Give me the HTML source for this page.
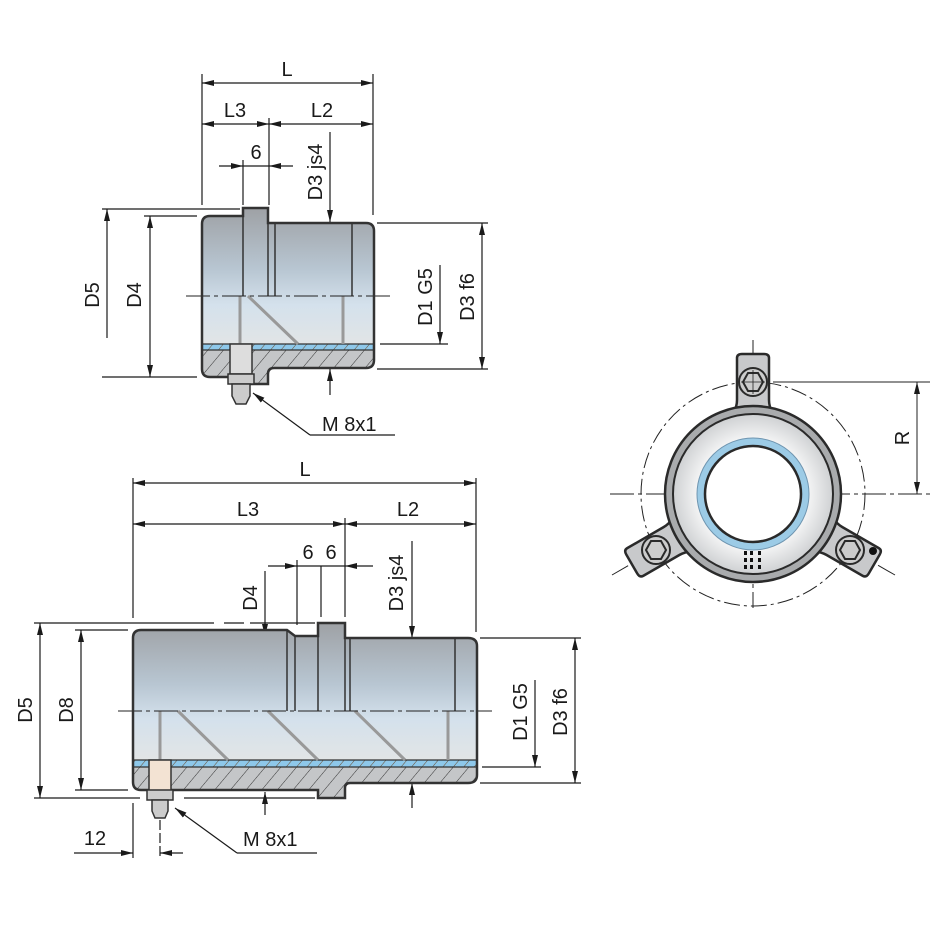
<!DOCTYPE html>
<html><head><meta charset="utf-8"><style>
html,body{margin:0;padding:0;background:#fff}
svg{display:block}
text{font-family:"Liberation Sans",Arial,sans-serif;font-size:20px;fill:#1a1a1a}
</style></head><body>
<svg width="941" height="941" viewBox="0 0 941 941" xmlns="http://www.w3.org/2000/svg">
<defs>
<marker id="a" viewBox="0 0 12 6" refX="12" refY="3" markerWidth="12" markerHeight="6" orient="auto-start-reverse" markerUnits="userSpaceOnUse"><path d="M0,0 L12,3 L0,6 z" fill="#1a1a1a"/></marker>
<linearGradient id="g" x1="0" y1="0" x2="0" y2="1">
<stop offset="0" stop-color="#9ea1a5"/><stop offset="0.35" stop-color="#b8c6d2"/><stop offset="0.55" stop-color="#d4e1ec"/><stop offset="0.85" stop-color="#e6e6e4"/><stop offset="1" stop-color="#d9d4cc"/></linearGradient>
<pattern id="h" width="12" height="12" patternUnits="userSpaceOnUse" patternTransform="rotate(40)"><rect width="12" height="12" fill="#c4c6c8"/><line x1="0" y1="0" x2="0" y2="12" stroke="#333" stroke-width="1"/></pattern>
<pattern id="hb" width="8" height="8" patternUnits="userSpaceOnUse" patternTransform="rotate(40)"><rect width="8" height="8" fill="#8ec8ea"/><line x1="0" y1="0" x2="0" y2="8" stroke="#6b4a2a" stroke-width="1"/></pattern>
<radialGradient id="rg"><stop offset="0.6" stop-color="#fff"/><stop offset="1" stop-color="#cfd1d3"/></radialGradient>
<path id="tb" d="M210,216 H243 V208 H268 V223 H366 Q374,223 374,231 V360 Q374,368 366,368 H274 Q268,368 268,374 V384 H250 V377 H210 Q202,377 202,369 V224 Q202,216 210,216 Z"/>
<path id="bb" d="M141,630 H287 L295,636 H318 V623 H345 V638 H468 Q477,638 477,646 V775 Q477,783 468,783 H350 Q345,783 345,788 V798 H318 V790 H141 Q133,790 133,782 V638 Q133,630 141,630 Z"/>
<clipPath id="ct"><use href="#tb"/></clipPath>
<clipPath id="cb"><use href="#bb"/></clipPath>
<path id="ear" d="M737,358 Q737,354 742,354 H764 Q769,354 769,358 V400 Q769,406 772,412 H734 Q737,406 737,400 Z"/>
</defs>
<g stroke="#1a1a1a" stroke-width="1.2" fill="none">
<line x1="202" y1="74" x2="202" y2="205"/><line x1="373" y1="74" x2="373" y2="215"/>
<line x1="202" y1="83" x2="373" y2="83" marker-start="url(#a)" marker-end="url(#a)"/>
<line x1="269" y1="118" x2="269" y2="205"/>
<line x1="202" y1="124" x2="269" y2="124" marker-start="url(#a)" marker-end="url(#a)"/>
<line x1="269" y1="124" x2="373" y2="124" marker-start="url(#a)" marker-end="url(#a)"/>
<line x1="243" y1="160" x2="243" y2="205"/>
<line x1="219" y1="166" x2="243" y2="166" marker-end="url(#a)"/>
<line x1="293" y1="166" x2="269" y2="166" marker-end="url(#a)"/>
<line x1="243" y1="166" x2="269" y2="166"/>
<line x1="330" y1="132" x2="330" y2="222" marker-end="url(#a)"/>
<line x1="330" y1="395" x2="330" y2="369" marker-end="url(#a)"/>
<line x1="102" y1="209" x2="240" y2="209"/><line x1="144" y1="216" x2="197" y2="216"/>
<line x1="102" y1="377" x2="197" y2="377"/>
<line x1="107" y1="209" x2="107" y2="338" marker-start="url(#a)"/>
<line x1="150" y1="216" x2="150" y2="377" marker-start="url(#a)" marker-end="url(#a)"/>
<line x1="377" y1="223" x2="488" y2="223"/><line x1="377" y1="369" x2="488" y2="369"/><line x1="380" y1="344" x2="448" y2="344"/>
<line x1="482" y1="223" x2="482" y2="369" marker-start="url(#a)" marker-end="url(#a)"/>
<line x1="440" y1="265" x2="440" y2="344" marker-end="url(#a)"/>
<line x1="310" y1="435" x2="253" y2="393" marker-end="url(#a)"/><line x1="310" y1="435" x2="395" y2="435"/>
<line x1="133" y1="478" x2="133" y2="618"/><line x1="476" y1="478" x2="476" y2="632"/>
<line x1="133" y1="483" x2="476" y2="483" marker-start="url(#a)" marker-end="url(#a)"/>
<line x1="345" y1="518" x2="345" y2="617"/>
<line x1="133" y1="524" x2="345" y2="524" marker-start="url(#a)" marker-end="url(#a)"/>
<line x1="345" y1="524" x2="476" y2="524" marker-start="url(#a)" marker-end="url(#a)"/>
<line x1="297" y1="560" x2="297" y2="625"/><line x1="321" y1="566" x2="321" y2="617"/>
<line x1="268" y1="566" x2="297" y2="566" marker-end="url(#a)"/>
<line x1="373" y1="566" x2="345" y2="566" marker-end="url(#a)"/>
<line x1="297" y1="566" x2="345" y2="566"/>
<line x1="265" y1="571" x2="265" y2="636" marker-end="url(#a)"/>
<line x1="412" y1="541" x2="412" y2="638" marker-end="url(#a)"/>
<line x1="265" y1="815" x2="265" y2="792" marker-end="url(#a)"/>
<line x1="412" y1="808" x2="412" y2="783" marker-end="url(#a)"/>
<line x1="34" y1="623" x2="315" y2="623" stroke-dasharray="180 10 20 6"/><line x1="75" y1="630" x2="128" y2="630"/>
<line x1="34" y1="798" x2="140" y2="798"/><line x1="75" y1="790" x2="128" y2="790"/>
<line x1="40" y1="623" x2="40" y2="798" marker-start="url(#a)" marker-end="url(#a)"/>
<line x1="81" y1="630" x2="81" y2="790" marker-start="url(#a)" marker-end="url(#a)"/>
<line x1="480" y1="638" x2="581" y2="638"/><line x1="480" y1="783" x2="581" y2="783"/><line x1="482" y1="767" x2="541" y2="767"/>
<line x1="184" y1="798" x2="315" y2="798"/>
<line x1="575" y1="638" x2="575" y2="783" marker-start="url(#a)" marker-end="url(#a)"/>
<line x1="535" y1="680" x2="535" y2="767" marker-end="url(#a)"/>
<line x1="133" y1="803" x2="133" y2="858"/><line x1="160" y1="820" x2="160" y2="858" stroke-dasharray="10 3"/>
<line x1="74" y1="853" x2="133" y2="853" marker-end="url(#a)"/>
<line x1="183" y1="853" x2="160" y2="853" marker-end="url(#a)"/>
<line x1="237" y1="853" x2="175" y2="808" marker-end="url(#a)"/><line x1="237" y1="853" x2="317" y2="853"/>
</g>
<!-- TOP BODY -->
<use href="#tb" fill="url(#g)"/>
<g clip-path="url(#ct)">
<rect x="200" y="350" width="180" height="40" fill="url(#h)"/>
<rect x="200" y="344" width="180" height="6" fill="url(#hb)"/>
<path d="M200,350 H380 M200,344 H380" stroke="#333" stroke-width="1.2" fill="none"/>
</g>
<g fill="none">
<path d="M243,208 V296 M268,223 V296 M275,223 V296 M352,223 V296" stroke="#333" stroke-width="1.5"/>
<path d="M240,296 V344 M343,296 V344 M248,296 L298,344" stroke="#999" stroke-width="3"/>
<path d="M186,296 H390" stroke="#222" stroke-width="1" stroke-dasharray="24 4 4 4"/>
</g>
<use href="#tb" fill="none" stroke="#333" stroke-width="2.5"/>
<rect x="230" y="344" width="22" height="30" fill="#ddd" stroke="#333" stroke-width="1.5"/>
<rect x="228" y="374" width="26" height="10" fill="#ccc" stroke="#333" stroke-width="1.5"/>
<path d="M232,384 H250 V396 L246,404 H236 L232,396 Z" fill="#ccc" stroke="#333" stroke-width="1.5"/>
<!-- BOTTOM BODY -->
<use href="#bb" fill="url(#g)"/>
<g clip-path="url(#cb)">
<rect x="130" y="767" width="350" height="35" fill="url(#h)"/>
<rect x="130" y="760" width="350" height="7" fill="url(#hb)"/>
<path d="M130,767 H480 M130,760 H480" stroke="#333" stroke-width="1.2" fill="none"/>
</g>
<g fill="none">
<path d="M287,630 V711 M295,636 V711 M318,623 V711 M345,638 V711 M350,638 V711 M455,638 V711" stroke="#333" stroke-width="1.5"/>
<path d="M160,711 V760 M448,711 V760 M178,711 L228,760 M268,711 L318,760 M355,711 L405,760" stroke="#999" stroke-width="3"/>
<path d="M118,711 H492" stroke="#222" stroke-width="1" stroke-dasharray="24 4 4 4"/>
</g>
<use href="#bb" fill="none" stroke="#333" stroke-width="2.5"/>
<rect x="149" y="760" width="22" height="32" fill="#f3e3d3" stroke="#333" stroke-width="1.5"/>
<rect x="147" y="790" width="26" height="10" fill="#ccc" stroke="#333" stroke-width="1.5"/>
<path d="M152,800 H168 V811 L165,818 H155 L152,811 Z" fill="#ccc" stroke="#333" stroke-width="1.5"/>
<!-- END VIEW -->
<g stroke="#222" stroke-width="1" fill="none">
<circle cx="753" cy="494" r="112" stroke-dasharray="16 4 3 4"/>
<line x1="610" y1="494" x2="930" y2="494" stroke-dasharray="24 4 4 4"/>
<line x1="753" y1="340" x2="753" y2="608" stroke-dasharray="24 4 4 4"/>
<line x1="753" y1="494" x2="612" y2="575" stroke-dasharray="24 4 4 4"/>
<line x1="753" y1="494" x2="895" y2="575" stroke-dasharray="24 4 4 4"/>
<line x1="773" y1="382" x2="930" y2="382"/>
<line x1="917" y1="382" x2="917" y2="494" marker-start="url(#a)" marker-end="url(#a)"/>
</g>
<g fill="#c8c9cb" stroke="#2a2a2a" stroke-width="2.5">
<use href="#ear"/>
<use href="#ear" transform="rotate(120 753 494)"/>
<use href="#ear" transform="rotate(240 753 494)"/>
<circle cx="753" cy="494" r="88" fill="#a9abad"/>
<circle cx="753" cy="494" r="80" fill="url(#rg)" stroke-width="2"/>
<circle cx="753" cy="494" r="56" fill="#9ccbe6" stroke="#6f95b0" stroke-width="1"/>
<circle cx="753" cy="494" r="48" fill="#fff" stroke-width="2.5"/>
</g>
<g fill="#ccc" stroke="#2a2a2a" stroke-width="2">
<circle cx="753" cy="382" r="14"/><polygon points="763,382 758,391 748,391 743,382 748,373 758,373"/>
<circle cx="656" cy="550" r="14"/><polygon points="666,550 661,559 651,559 646,550 651,541 661,541"/>
<circle cx="850" cy="550" r="14"/><polygon points="860,550 855,559 845,559 840,550 845,541 855,541"/>
</g>
<circle cx="873" cy="551" r="4" fill="#111"/>
<g stroke="#222" stroke-width="0.8"><line x1="753" y1="370" x2="753" y2="394"/><line x1="741" y1="382" x2="765" y2="382"/></g>
<g fill="#111"><rect x="744" y="551" width="3" height="4"/><rect x="750" y="551" width="3" height="4"/><rect x="744" y="558" width="3" height="4"/><rect x="750" y="558" width="3" height="4"/><rect x="744" y="565" width="3" height="4"/><rect x="750" y="565" width="3" height="4"/><rect x="758" y="551" width="3" height="4"/><rect x="758" y="558" width="3" height="4"/><rect x="758" y="565" width="3" height="4"/></g>
<!-- TEXT -->
<text x="287" y="76" text-anchor="middle">L</text>
<text x="235" y="117" text-anchor="middle">L3</text>
<text x="322" y="117" text-anchor="middle">L2</text>
<text x="256" y="159" text-anchor="middle">6</text>
<text transform="translate(322,172) rotate(-90)" text-anchor="middle">D3 js4</text>
<text transform="translate(99,295) rotate(-90)" text-anchor="middle">D5</text>
<text transform="translate(141,295) rotate(-90)" text-anchor="middle">D4</text>
<text transform="translate(432,297) rotate(-90)" text-anchor="middle">D1 G5</text>
<text transform="translate(474,297) rotate(-90)" text-anchor="middle">D3 f6</text>
<text x="322" y="431">M 8x1</text>
<text x="305" y="476" text-anchor="middle">L</text>
<text x="248" y="516" text-anchor="middle">L3</text>
<text x="408" y="516" text-anchor="middle">L2</text>
<text x="308" y="559" text-anchor="middle">6</text>
<text x="331" y="559" text-anchor="middle">6</text>
<text transform="translate(257,598) rotate(-90)" text-anchor="middle">D4</text>
<text transform="translate(403,583) rotate(-90)" text-anchor="middle">D3 js4</text>
<text transform="translate(32,710) rotate(-90)" text-anchor="middle">D5</text>
<text transform="translate(73,710) rotate(-90)" text-anchor="middle">D8</text>
<text transform="translate(527,712) rotate(-90)" text-anchor="middle">D1 G5</text>
<text transform="translate(567,712) rotate(-90)" text-anchor="middle">D3 f6</text>
<text x="95" y="845" text-anchor="middle">12</text>
<text x="243" y="846">M 8x1</text>
<text transform="translate(909,438) rotate(-90)" text-anchor="middle">R</text>
</svg>
</body></html>
